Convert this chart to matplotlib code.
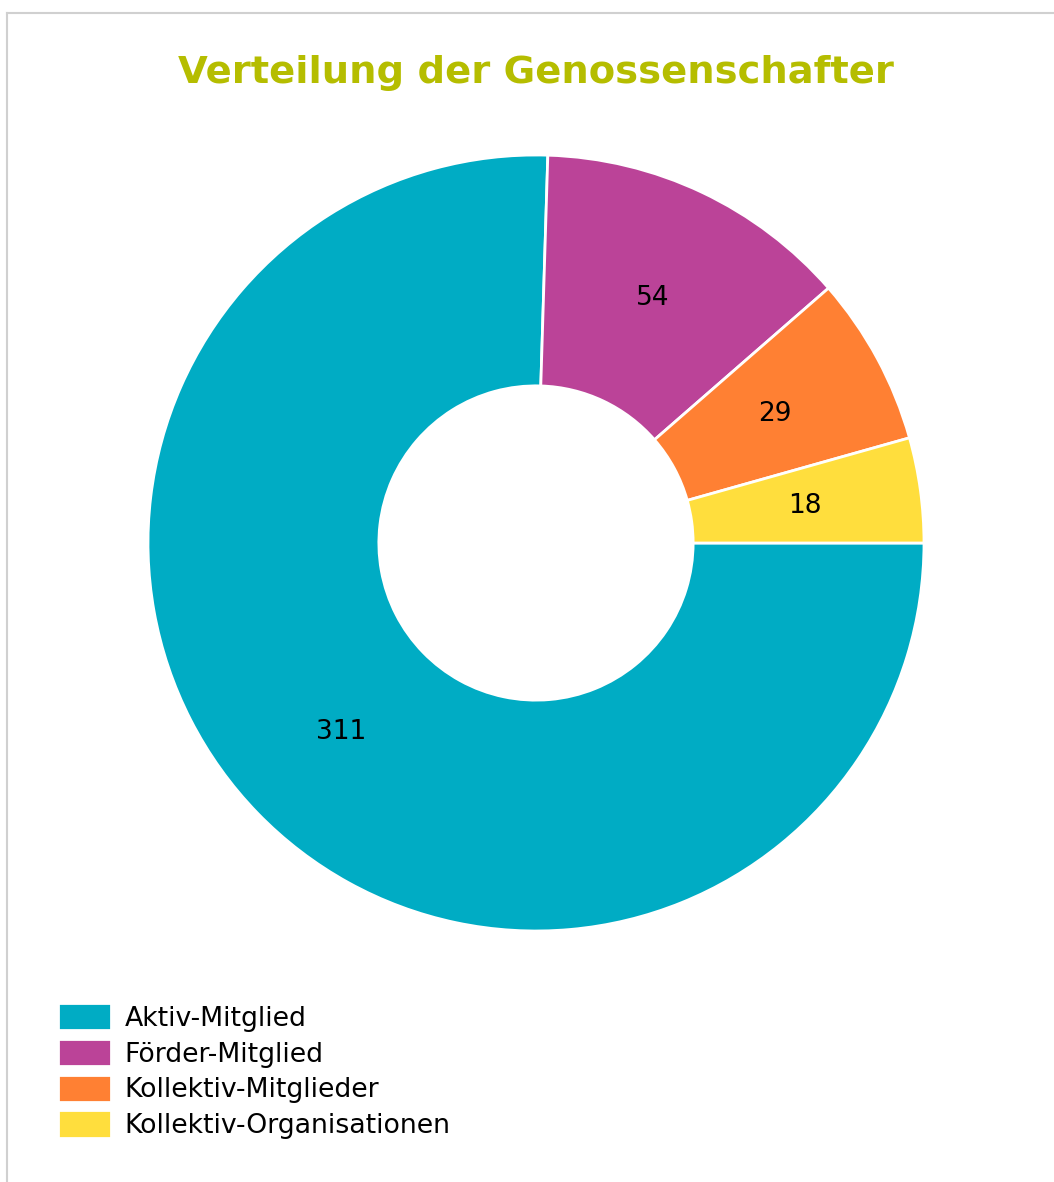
import matplotlib.pyplot as plt
from matplotlib.lines import Line2D

categories = ['Aktiv-Mitglied', 'Förder-Mitglied', 'Kollektiv-Mitglieder', 'Kollektiv-Organisationen']
counts = [311, 54, 29, 18]
colors = ['#00acc4', '#bb4398', '#ff8033', '#ffde3d']

W, H = 1054, 1182
fig = plt.figure(figsize=(W / 100, H / 100), dpi=100)

# thin grey frame on top and left
fig.add_artist(Line2D([7 / W, 7 / W], [0, 1 - 13 / H], color='#d0d0d0', lw=1.5, transform=fig.transFigure))
fig.add_artist(Line2D([7 / W, 1], [1 - 13 / H, 1 - 13 / H], color='#d0d0d0', lw=1.5, transform=fig.transFigure))

fig.text(536 / W, 1 - 73 / H, 'Verteilung der Genossenschafter', ha='center', va='center',
         fontsize=27.7, fontweight='bold', color='#b5bd00')

cx, cy, r = 536, 543, 388
ax = fig.add_axes([(cx - r) / W, (H - cy - r) / H, 2 * r / W, 2 * r / H])
wedges, texts = ax.pie(counts, colors=colors, startangle=0, counterclock=False,
                       labels=[str(c) for c in counts], labeldistance=0.70,
                       wedgeprops=dict(width=0.595, edgecolor='white', linewidth=2),
                       textprops=dict(fontsize=19, color='black'))
for t in texts:
    t.set_ha('center')
    t.set_va('center')
for w in wedges:
    w.set_clip_on(False)
ax.set_xlim(-1, 1)
ax.set_ylim(-1, 1)
ax.axis('off')

fig.legend(wedges, categories, loc='upper left', bbox_to_anchor=(58 / W, 1 - 1003 / H),
           frameon=False, fontsize=19.3, handlelength=1.98, handleheight=1.2,
           handletextpad=0.5, labelspacing=0.26, borderpad=0, borderaxespad=0)

fig.savefig('out.png', dpi=100)
